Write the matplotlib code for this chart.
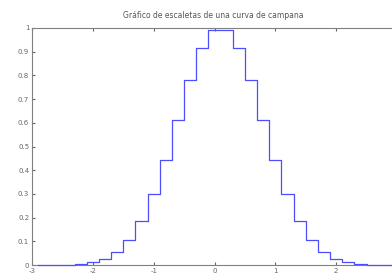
import matplotlib
matplotlib.use("Agg")
import matplotlib.pyplot as plt

# puntos de la curva de campana (x cada 0.2, de -2.9 a 2.9)
x_vals = [-2.9, -2.7, -2.5, -2.3, -2.1, -1.9, -1.7, -1.5, -1.3, -1.1, -0.9, -0.7, -0.5, -0.3, -0.1,
          0.1, 0.3, 0.5, 0.7, 0.9, 1.1, 1.3, 1.5, 1.7, 1.9, 2.1, 2.3, 2.5, 2.7, 2.9]
y_vals = [0.0002, 0.0007, 0.002, 0.005, 0.012, 0.027, 0.056, 0.105, 0.185, 0.298, 0.445, 0.613, 0.779, 0.914, 0.990,
          0.990, 0.914, 0.779, 0.613, 0.445, 0.298, 0.185, 0.105, 0.056, 0.027, 0.012, 0.005, 0.002, 0.0007, 0.0002]
x_ticks = [-3, -2, -1, 0, 1, 2, 3]
x_labels = ["-3", "-2", "-1", "0", "1", "2", ""]  # el 3 queda fuera de la imagen
y_ticks = [0, 0.1, 0.2, 0.3, 0.4, 0.5, 0.6, 0.7, 0.8, 0.9, 1]
y_labels = ["0", "0.1", "0.2", "0.3", "0.4", "0.5", "0.6", "0.7", "0.8", "0.9", "1"]
title = "Gráfico de escaletas de una curva de campana"

fig = plt.figure(figsize=(3.92, 2.73), dpi=100)
ax = fig.add_axes([32 / 392, 1 - 265 / 273, 365 / 392, 237 / 273])

ax.step(x_vals, y_vals, where="post", color="#4d4dff", lw=0.9, zorder=5, clip_on=False)

ax.set_xlim(-3, 3)
ax.set_ylim(0, 1)
ax.set_xticks(x_ticks)
ax.set_xticklabels(x_labels)
ax.set_yticks(y_ticks)
ax.set_yticklabels(y_labels)
ax.tick_params(direction="in", length=2, labelsize=5, colors="#666666", pad=2)
ax.tick_params(top=True, right=True)
for s in ax.spines.values():
    s.set_color("#808080")
    s.set_linewidth(0.8)

fig.text(213 / 392, 1 - 15 / 273, title, ha="center", va="center", fontsize=5.5, color="#555555")

fig.savefig("out.png", dpi=100)
